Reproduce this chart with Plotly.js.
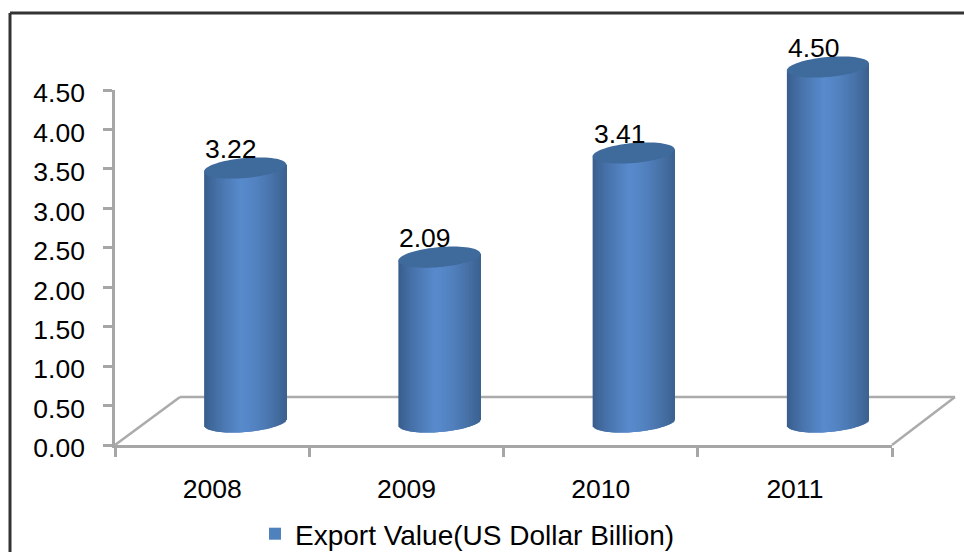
<!DOCTYPE html>
<html>
<head>
<meta charset="utf-8">
<script src="https://cdn.plot.ly/plotly-3.0.1.min.js"></script>
<style>html,body{margin:0;padding:0;background:#fff}#chart{width:964px;height:552px}</style>
</head>
<body>
<div id="chart"></div>
<script>
const years = ['2008', '2009', '2010', '2011'];
const exportValues = [3.22, 2.09, 3.41, 4.50];
const seriesName = 'Export Value(US Dollar Billion)';
const yTicks = [0, 0.5, 1, 1.5, 2, 2.5, 3, 3.5, 4, 4.5];

const W = 964, H = 552;
const plotL = 115, plotR = 892, plotT = 90, plotB = 445;
const depthX = 33, depthY = 23;
const pxPerUnitX = (plotR - plotL) / 4;
const pxPerUnitY = (plotB - plotT) / 4.5;
const rangeY2 = [-0.3, 4.8];

const halfWidth = 41 / pxPerUnitX;
const rimMinor = 10 / pxPerUnitY;
const rimTilt = 3.5 / pxPerUnitY;
const bands = 82;
const bandWidth = 2 * halfWidth / bands;

function mix(a, b, k) { return a.map((v, i) => Math.round(v + (b[i] - v) * k)); }
function bandColor(t) {
  const edgeL = [56, 92, 138], mid = [88, 138, 204], edgeR = [60, 97, 143];
  const c = t < -0.12 ? mix(edgeL, mid, Math.pow((t + 1) / 0.88, 0.8))
                      : mix(mid, edgeR, Math.pow((t + 0.12) / 1.12, 1.5));
  return 'rgb(' + c.join(',') + ')';
}

const bx = [], bBase = [], bLen = [], bOff = [], bWid = [], bCol = [];
exportValues.forEach((v, i) => {
  for (let k = 0; k < bands; k++) {
    const t = -1 + (k + 0.5) * 2 / bands;
    const sag = rimMinor * Math.sqrt(1 - t * t);
    const bottom = rimTilt * t - sag;
    const top = v + rimTilt * t;
    const off = -halfWidth + k * bandWidth;
    bx.push(i);
    bBase.push(bottom);
    bLen.push(top - bottom);
    bOff.push(off);
    bWid.push(Math.min(bandWidth * 2.5, halfWidth - off));
    bCol.push(bandColor(t));
  }
});

const capShapes = exportValues.map((v, i) => {
  const pts = [];
  for (let a = 0; a < 72; a++) {
    const th = a * Math.PI / 36;
    const t = Math.cos(th);
    pts.push((i + halfWidth * t) + ',' + (v + rimTilt * t + rimMinor * Math.sin(th)));
  }
  return {
    type: 'path', xref: 'x2', yref: 'y2', layer: 'above',
    path: 'M' + pts.join('L') + 'Z',
    fillcolor: '#3F6A9C', line: {width: 0}
  };
});

const py = p => 1 - p / H, px = p => p / W;
const floorLine = {color: '#ABABAB', width: 2.5};
const seg = (x0, y0, x1, y1, line, layer) => ({
  type: 'line', xref: 'paper', yref: 'paper', layer: layer || 'below',
  x0: px(x0), y0: py(y0), x1: px(x1), y1: py(y1), line
});
const frame = {color: '#333333', width: 3};

const traces = [
  {
    type: 'scatter', mode: 'none', x: years, y: exportValues, xaxis: 'x', yaxis: 'y',
    hoverinfo: 'skip', showlegend: false
  },
  {
    type: 'bar', name: seriesName, x: years.map((_, i) => i), y: exportValues,
    width: halfWidth, xaxis: 'x2', yaxis: 'y2', opacity: 1,
    marker: {color: '#4F81BD', line: {width: 0}}, hoverinfo: 'skip', showlegend: true
  },
  {
    type: 'bar', x: bx, y: bLen, base: bBase, offset: bOff, width: bWid,
    xaxis: 'x2', yaxis: 'y2', opacity: 1, marker: {color: bCol, line: {width: 0}},
    hoverinfo: 'skip', showlegend: false
  }
];

const font = {family: '"Liberation Sans", Arial, sans-serif', size: 26.5, color: '#000'};
const legendFont = {family: '"Liberation Sans", Arial, sans-serif', size: 28, color: '#000'};

const layout = {
  width: W, height: H,
  margin: {l: 0, r: 0, t: 0, b: 0, autoexpand: false},
  paper_bgcolor: '#fff', plot_bgcolor: 'rgba(0,0,0,0)',
  font,
  barmode: 'overlay',
  xaxis: {
    type: 'category', domain: [px(plotL), px(plotR)], range: [-0.5, 3.5], anchor: 'y',
    categoryorder: 'array', categoryarray: years,
    tickson: 'boundaries', ticks: 'outside', ticklen: 9, tickwidth: 2.5, tickcolor: '#A6A6A6',
    showline: true, linecolor: '#A6A6A6', linewidth: 2.5, showgrid: false, zeroline: false,
    ticklabelstandoff: 18, tickfont: font
  },
  yaxis: {
    domain: [py(plotB), py(plotT)], range: [0, 4.5], anchor: 'x',
    tickmode: 'array', tickvals: yTicks, ticktext: yTicks.map(v => v.toFixed(2)),
    ticks: 'outside', ticklen: 9, tickwidth: 2.5, tickcolor: '#A6A6A6',
    showline: true, linecolor: '#A6A6A6', linewidth: 2.5, showgrid: false, zeroline: false,
    ticklabelstandoff: 13, ticklabelshift: 3, tickfont: font
  },
  xaxis2: {
    domain: [px(plotL + depthX), px(plotR + depthX)], range: [-0.5, 3.5], anchor: 'y2',
    visible: false
  },
  yaxis2: {
    domain: [py(plotB - depthY - rangeY2[0] * pxPerUnitY), py(plotB - depthY - rangeY2[1] * pxPerUnitY)],
    range: rangeY2, anchor: 'x2', visible: false
  },
  shapes: [
    seg(115, 445, 180, 397, floorLine),
    seg(180, 397, 955, 397, floorLine),
    seg(955, 397, 892, 445, floorLine),
    seg(10, 13, 10, 552, frame, 'above'),
    seg(10, 13, 964, 13, frame, 'above')
  ].concat(capShapes),
  annotations: exportValues.map((v, i) => ({
    xref: 'x2', yref: 'y2', x: i, y: v, text: v.toFixed(2), showarrow: false,
    xshift: -14, yshift: 19, font
  })),
  showlegend: true,
  legend: {
    orientation: 'h', x: px(255), xanchor: 'left', y: py(509), yanchor: 'top',
    font: legendFont, bgcolor: 'rgba(0,0,0,0)', itemclick: false, itemdoubleclick: false
  }
};

Plotly.newPlot('chart', traces, layout, {displayModeBar: false, responsive: false});
</script>
</body>
</html>
